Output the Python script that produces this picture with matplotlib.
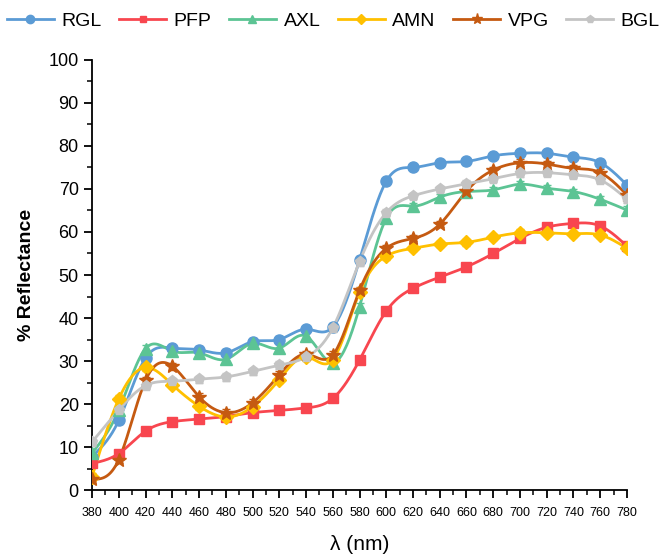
import numpy as np
import matplotlib
matplotlib.use('Agg')
import matplotlib.pyplot as plt
from matplotlib.ticker import MultipleLocator

plt.rcParams['font.family'] = ['Liberation Sans', 'DejaVu Sans']

# wavelength (nm)
wl = [380, 400, 420, 440, 460, 480, 500, 520, 540, 560, 580,
      600, 620, 640, 660, 680, 700, 720, 740, 760, 780]

rgl = [7.8, 16.2, 30.7, 33.0, 32.6, 31.9, 34.5, 35.0, 37.4, 37.9, 53.5,
       71.8, 75.0, 76.1, 76.4, 77.7, 78.3, 78.3, 77.4, 76.1, 70.9]
pfp = [6.2, 8.5, 13.7, 15.9, 16.5, 17.1, 18.0, 18.5, 19.1, 21.3, 30.2,
       41.6, 46.9, 49.5, 51.9, 55.0, 58.5, 61.1, 62.0, 61.4, 56.7]
axl = [8.6, 18.6, 32.9, 32.3, 31.9, 30.4, 34.1, 33.0, 35.8, 29.6, 42.6,
       63.2, 66.0, 68.1, 69.4, 69.8, 71.1, 70.2, 69.4, 67.6, 65.1]
amn = [3.1, 21.2, 28.5, 24.5, 19.5, 17.0, 19.4, 25.7, 31.0, 30.3, 46.0,
       54.4, 56.2, 57.2, 57.6, 58.8, 59.8, 59.8, 59.6, 59.3, 56.2]
vpg = [2.5, 7.1, 25.5, 28.8, 21.7, 18.0, 20.3, 26.8, 31.6, 31.4, 46.4,
       56.2, 58.5, 61.8, 69.5, 74.4, 76.1, 75.8, 74.8, 73.8, 68.6]
bgl = [11.2, 18.6, 24.3, 25.3, 25.8, 26.3, 27.6, 29.0, 30.9, 37.7, 53.1,
       64.5, 68.4, 70.0, 71.2, 72.4, 73.6, 73.8, 73.3, 72.1, 67.6]
err = [0.9, 0.8, 0.9, 0.8, 0.8, 0.9, 0.8, 0.9, 0.8, 0.9, 0.9,
       0.8, 0.7, 0.7, 0.8, 0.7, 0.8, 0.7, 0.7, 0.8, 0.9]

names = ['RGL', 'PFP', 'AXL', 'AMN', 'VPG', 'BGL']
series = [rgl, pfp, axl, amn, vpg, bgl]
colors = ['#5B9BD5', '#F8464F', '#5CC494', '#FFC000', '#C55A11', '#C4C4C4']
markers = ['o', 's', '^', 'D', '*', 'p']
msizes = [8, 7, 8, 7, 10, 8]


def spline(x, y, n=400):
    # natural cubic spline, just for the smooth connecting line
    x = np.asarray(x, float)
    y = np.asarray(y, float)
    h = np.diff(x)
    N = len(x)
    A = np.zeros((N, N))
    b = np.zeros(N)
    A[0, 0] = A[-1, -1] = 1
    for i in range(1, N - 1):
        A[i, i - 1] = h[i - 1]
        A[i, i] = 2 * (h[i - 1] + h[i])
        A[i, i + 1] = h[i]
        b[i] = 6 * ((y[i + 1] - y[i]) / h[i] - (y[i] - y[i - 1]) / h[i - 1])
    M = np.linalg.solve(A, b)
    xs = np.linspace(x[0], x[-1], n)
    k = np.clip(np.searchsorted(x, xs) - 1, 0, N - 2)
    t1 = x[k + 1] - xs
    t0 = xs - x[k]
    ys = (M[k] * t1**3 + M[k + 1] * t0**3) / (6 * h[k]) \
        + (y[k] / h[k] - M[k] * h[k] / 6) * t1 \
        + (y[k + 1] / h[k] - M[k + 1] * h[k] / 6) * t0
    return xs, ys


fig = plt.figure(figsize=(6.67, 5.55), dpi=100)
ax = fig.add_axes([0.138, 0.117, 0.802, 0.775])

handles = []
for name, ys, c, m, ms in zip(names, series, colors, markers, msizes):
    xs, ss = spline(wl, ys)
    ax.plot(xs, ss, color=c, lw=2, zorder=2)
    ax.errorbar(wl, ys, yerr=err, fmt='none', ecolor=c, elinewidth=1,
                capsize=3, zorder=3)
    ax.plot(wl, ys, ls='none', marker=m, ms=ms, color=c, mec=c, zorder=4)
    h, = ax.plot([], [], color=c, lw=2, marker=m, ms=ms - 2, label=name)
    handles.append(h)

ax.set_xlim(380, 780)
ax.set_ylim(0, 100)
ax.xaxis.set_major_locator(MultipleLocator(20))
ax.xaxis.set_minor_locator(MultipleLocator(10))
ax.yaxis.set_major_locator(MultipleLocator(10))
ax.yaxis.set_minor_locator(MultipleLocator(5))
ax.spines['top'].set_visible(False)
ax.spines['right'].set_visible(False)
for s in ['left', 'bottom']:
    ax.spines[s].set_linewidth(1.3)
ax.tick_params(axis='both', which='major', direction='out', length=6, width=1.3)
ax.tick_params(axis='both', which='minor', direction='out', length=3.5, width=1.1)
ax.tick_params(axis='x', labelsize=9, pad=6)
ax.tick_params(axis='y', labelsize=13)

ax.set_xlabel('λ (nm)', fontsize=15, labelpad=12)
ax.set_ylabel('% Reflectance', fontsize=14, fontweight='bold', labelpad=10)

fig.legend(handles=handles, loc='upper center', ncol=6, frameon=False,
           fontsize=14, bbox_to_anchor=(0.5, 1.01), handlelength=2.4,
           columnspacing=0.9, handletextpad=0.4)

fig.savefig('out.png', dpi=100)
